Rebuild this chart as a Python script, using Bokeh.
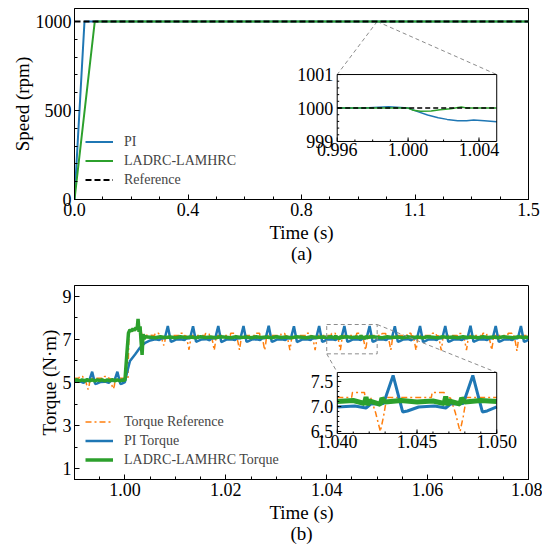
import numpy as np
from bokeh.plotting import figure
from bokeh.models import Range1d, FixedTicker, PrintfTickFormatter
from bokeh.layouts import column
from bokeh.core.properties import value
from bokeh.embed import file_html
from bokeh.resources import INLINE

FONT = "Liberation Serif"
BLUE = "#1f77b4"
GREEN = "#2ca02c"
ORANGE = "#ff7f0e"
GRAY = "#8c8c8c"

# ---------------- (a) speed data ----------------
SPEED_PI_T = [0.0, 0.033, 0.5, 0.996, 0.9975, 0.9989, 1.0, 1.0005, 1.0011, 1.0017,
              1.0022, 1.0028, 1.0033, 1.0037, 1.0043, 1.005, 1.06, 1.5]
SPEED_PI = [0, 1000, 1000, 1000, 1000, 1000.04, 1000, 999.9, 999.79, 999.71,
            999.66, 999.62, 999.62, 999.64, 999.62, 999.59, 1000, 1000]
SPEED_LAD_T = [0.0, 0.067, 0.5, 0.996, 1.0, 1.0003, 1.0007, 1.0013, 1.0018, 1.0024,
               1.003, 1.0033, 1.005, 1.5]
SPEED_LAD = [0, 1000, 1000, 1000, 1000, 999.93, 999.9, 999.91, 999.95, 999.98,
             1000.03, 1000, 1000, 1000]
SPEED_REF_T = [0.0, 0.996, 1.005, 1.5]
SPEED_REF = [1000, 1000, 1000, 1000]

SPEED_XTICKS = [0.0, 0.375, 0.75, 1.125, 1.5]
SPEED_YTICKS = [0, 500, 1000]
INSET_A_XTICKS = [0.996, 1.000, 1.004]
INSET_A_XLABELS = ["0.996", "1.000", "1.004"]
INSET_A_YTICKS = [999, 1000, 1001]
INSET_A_YLABELS = ["999", "1000", "1001"]

# ---------------- (b) torque data ----------------
TQ_PI_T = [
    0.9900, 0.9911, 0.9918, 0.9921, 0.9929, 0.9935, 0.9941, 0.9944, 0.9951, 0.9961,
    0.9968, 0.9971, 0.9979, 0.9985, 0.9991, 0.9994, 1.0000, 1.0004, 1.0010, 1.0020,
    1.0030, 1.0040, 1.0050, 1.0060,
    1.0068, 1.0071, 1.0079, 1.0085, 1.0091, 1.0094, 1.0101, 1.0111,
    1.0118, 1.0121, 1.0129, 1.0135, 1.0141, 1.0144, 1.0151, 1.0161,
    1.0168, 1.0171, 1.0179, 1.0185, 1.0191, 1.0194, 1.0201, 1.0211,
    1.0218, 1.0221, 1.0229, 1.0235, 1.0241, 1.0244, 1.0251, 1.0261,
    1.0268, 1.0271, 1.0279, 1.0285, 1.0291, 1.0294, 1.0301, 1.0311,
    1.0318, 1.0321, 1.0329, 1.0335, 1.0341, 1.0344, 1.0351, 1.0361,
    1.0368, 1.0371, 1.0379, 1.0385, 1.0391, 1.0394, 1.0400, 1.0411,
    1.0418, 1.0421, 1.0429, 1.0435, 1.0441, 1.0444, 1.0451, 1.0461,
    1.0468, 1.0471, 1.0479, 1.0485, 1.0491, 1.0494, 1.0500, 1.0511,
    1.0518, 1.0521, 1.0529, 1.0535, 1.0541, 1.0544, 1.0551, 1.0561,
    1.0568, 1.0571, 1.0579, 1.0585, 1.0591, 1.0594, 1.0601, 1.0611,
    1.0618, 1.0621, 1.0629, 1.0635, 1.0641, 1.0644, 1.0651, 1.0661,
    1.0668, 1.0671, 1.0679, 1.0685, 1.0691, 1.0694, 1.0701, 1.0711,
    1.0718, 1.0721, 1.0729, 1.0735, 1.0741, 1.0744, 1.0751, 1.0761,
    1.0768, 1.0771, 1.0779, 1.0785, 1.0791, 1.0794, 1.0800,
]
TQ_PI = [
    5.03, 5.05, 4.98, 5.07, 5.08, 5.50, 4.93, 4.95, 5.02, 5.04,
    4.98, 5.07, 5.08, 5.50, 4.93, 4.95, 5.02, 5.45, 6.00, 6.30,
    6.62, 6.84, 6.95, 7.00,
    6.97, 7.04, 7.05, 7.62, 6.89, 6.91, 6.99, 7.01,
    6.97, 7.04, 7.05, 7.61, 6.89, 6.92, 6.99, 7.01,
    6.96, 7.04, 7.05, 7.62, 6.88, 6.91, 6.99, 7.01,
    6.97, 7.04, 7.05, 7.62, 6.89, 6.91, 6.99, 7.01,
    6.97, 7.04, 7.06, 7.63, 6.89, 6.91, 6.99, 7.01,
    6.97, 7.04, 7.05, 7.61, 6.88, 6.91, 6.99, 7.01,
    6.97, 7.04, 7.05, 7.62, 6.89, 6.91, 6.99, 7.01,
    6.97, 7.05, 7.06, 7.62, 6.89, 6.91, 6.99, 7.01,
    6.97, 7.05, 7.06, 7.62, 6.89, 6.91, 6.99, 7.01,
    6.97, 7.04, 7.05, 7.61, 6.89, 6.91, 6.99, 7.01,
    6.96, 7.04, 7.05, 7.62, 6.88, 6.91, 6.99, 7.01,
    6.97, 7.04, 7.05, 7.62, 6.89, 6.91, 6.99, 7.01,
    6.97, 7.04, 7.05, 7.63, 6.89, 6.92, 6.99, 7.01,
    6.97, 7.04, 7.05, 7.62, 6.89, 6.91, 6.99, 7.01,
    6.97, 7.04, 7.05, 7.62, 6.89, 6.91, 6.99,
]

TQ_REF_T = [
    0.9900, 0.9909, 0.99095, 0.9916, 0.9918, 0.9921, 0.9923, 0.9925, 0.9927, 0.9929, 0.9931,
    0.9959, 0.99595, 0.9966, 0.9968, 0.9971, 0.9973, 0.9975, 0.9977, 0.9979, 0.9981,
    1.0006, 1.0008, 1.0012, 1.0016, 1.0020, 1.0024, 1.0028, 1.0031, 1.0034,
    1.0059, 1.00595, 1.0067, 1.00675, 1.0071, 1.0074, 1.0077, 1.0079, 1.0081,
    1.0109, 1.01095, 1.0117, 1.01175, 1.0121, 1.0124, 1.0127, 1.0129, 1.0131,
    1.0159, 1.01595, 1.0167, 1.01675, 1.0171, 1.0174, 1.0177, 1.0179, 1.0181,
    1.0209, 1.02095, 1.0217, 1.02175, 1.0221, 1.0224, 1.0227, 1.0229, 1.0231,
    1.0259, 1.02595, 1.0267, 1.02675, 1.0271, 1.0274, 1.0277, 1.0279, 1.0281,
    1.0309, 1.03095, 1.0317, 1.03175, 1.0321, 1.0324, 1.0327, 1.0329, 1.0331,
    1.0359, 1.03595, 1.0367, 1.03675, 1.0371, 1.0374, 1.0377, 1.0379, 1.0381, 1.0400,
    1.0409, 1.04095, 1.0417, 1.04175, 1.0421, 1.0424, 1.0427, 1.0429, 1.0431,
    1.0459, 1.04595, 1.0467, 1.04675, 1.0471, 1.0474, 1.0477, 1.0479, 1.0481, 1.0500,
    1.0509, 1.05095, 1.0517, 1.05175, 1.0521, 1.0524, 1.0527, 1.0529, 1.0531,
    1.0559, 1.05595, 1.0567, 1.05675, 1.0571, 1.0574, 1.0577, 1.0579, 1.0581,
    1.0609, 1.06095, 1.0617, 1.06175, 1.0621, 1.0624, 1.0627, 1.0629, 1.0631,
    1.0659, 1.06595, 1.0667, 1.06675, 1.0671, 1.0674, 1.0677, 1.0679, 1.0681,
    1.0709, 1.07095, 1.0717, 1.07175, 1.0721, 1.0724, 1.0727, 1.0729, 1.0731,
    1.0759, 1.07595, 1.0767, 1.07675, 1.0771, 1.0774, 1.0777, 1.0779, 1.0781, 1.0800,
]
TQ_REF = [
    5.20, 5.20, 5.28, 5.28, 5.20, 5.18, 5.00, 4.80, 4.68, 4.85, 5.20,
    5.20, 5.28, 5.28, 5.20, 5.18, 5.00, 4.80, 4.70, 4.85, 5.20,
    5.20, 7.35, 7.45, 7.40, 7.50, 7.45, 7.50, 7.45, 7.20,
    7.18, 7.28, 7.28, 7.18, 7.17, 6.95, 6.72, 6.90, 7.18,
    7.18, 7.28, 7.28, 7.18, 7.17, 6.88, 6.52, 6.80, 7.18,
    7.18, 7.27, 7.27, 7.18, 7.17, 6.88, 6.50, 6.80, 7.18,
    7.18, 7.28, 7.28, 7.18, 7.17, 6.88, 6.51, 6.80, 7.18,
    7.18, 7.28, 7.28, 7.18, 7.17, 6.88, 6.50, 6.80, 7.18,
    7.18, 7.27, 7.27, 7.18, 7.17, 6.88, 6.50, 6.80, 7.18,
    7.18, 7.28, 7.28, 7.18, 7.17, 6.88, 6.50, 6.80, 7.18, 7.18,
    7.18, 7.28, 7.28, 7.18, 7.17, 6.88, 6.50, 6.80, 7.18,
    7.18, 7.28, 7.28, 7.18, 7.17, 6.88, 6.50, 6.80, 7.18, 7.18,
    7.18, 7.27, 7.27, 7.18, 7.17, 6.88, 6.51, 6.80, 7.18,
    7.18, 7.28, 7.28, 7.18, 7.17, 6.88, 6.50, 6.80, 7.18,
    7.18, 7.28, 7.28, 7.18, 7.17, 6.88, 6.49, 6.80, 7.18,
    7.18, 7.27, 7.27, 7.18, 7.17, 6.88, 6.50, 6.80, 7.18,
    7.18, 7.28, 7.28, 7.18, 7.17, 6.88, 6.51, 6.80, 7.18,
    7.18, 7.28, 7.28, 7.18, 7.17, 6.88, 6.47, 6.80, 7.18, 7.18,
]

TQ_LAD_T = [
    0.9900, 0.9905, 0.9910, 0.9915, 0.9920, 0.9925, 0.9930, 0.9935, 0.9940, 0.9945,
    0.9950, 0.9955, 0.9960, 0.9965, 0.9970, 0.9975, 0.9980, 0.9985, 0.9990, 0.9995,
    1.0000, 1.0004, 1.0007, 1.0010, 1.0013, 1.0016, 1.0019, 1.0022, 1.0024, 1.0026,
    1.0028, 1.0030, 1.0032, 1.0034, 1.0036, 1.0038, 1.0040,
    1.005, 1.006, 1.007, 1.008, 1.009, 1.010, 1.011, 1.012, 1.013, 1.014,
    1.015, 1.016, 1.017, 1.018, 1.019, 1.020, 1.021, 1.022, 1.023, 1.024,
    1.025, 1.026, 1.027, 1.028, 1.029, 1.030, 1.031, 1.032, 1.033, 1.034,
    1.035, 1.036, 1.037, 1.038, 1.039, 1.040, 1.041, 1.0417, 1.0418, 1.0419,
    1.042, 1.0427, 1.0428, 1.043, 1.044, 1.045, 1.046, 1.0467, 1.0468, 1.0469,
    1.047, 1.0477, 1.0478, 1.048, 1.049, 1.050, 1.051, 1.052, 1.053, 1.054,
    1.055, 1.056, 1.057, 1.058, 1.059, 1.060, 1.061, 1.062, 1.063, 1.064,
    1.065, 1.066, 1.067, 1.068, 1.069, 1.070, 1.071, 1.072, 1.073, 1.074,
    1.075, 1.076, 1.077, 1.078, 1.079, 1.080,
]
TQ_LAD = [
    5.10, 5.13, 5.07, 5.12, 5.08, 5.13, 5.08, 5.12, 5.07, 5.12,
    5.09, 5.13, 5.07, 5.12, 5.08, 5.13, 5.08, 5.12, 5.07, 5.12,
    5.10, 6.40, 7.30, 7.45, 7.38, 7.50, 7.42, 7.55, 7.45, 7.95,
    7.35, 7.60, 6.90, 6.28, 7.25, 7.02, 7.12,
    7.10, 7.08, 7.12, 7.09, 7.11, 7.08, 7.12, 7.09, 7.11, 7.08,
    7.12, 7.09, 7.11, 7.08, 7.12, 7.10, 7.08, 7.12, 7.09, 7.11,
    7.08, 7.12, 7.09, 7.11, 7.08, 7.12, 7.09, 7.11, 7.08, 7.12,
    7.10, 7.08, 7.12, 7.09, 7.11, 7.10, 7.12, 7.06, 7.19, 7.03,
    7.11, 7.04, 7.17, 7.09, 7.12, 7.09, 7.11, 7.06, 7.20, 7.03,
    7.11, 7.05, 7.17, 7.09, 7.12, 7.10, 7.08, 7.12, 7.09, 7.11,
    7.08, 7.12, 7.09, 7.11, 7.08, 7.12, 7.10, 7.08, 7.12, 7.09,
    7.11, 7.08, 7.12, 7.09, 7.11, 7.08, 7.12, 7.09, 7.11, 7.08,
    7.12, 7.10, 7.08, 7.12, 7.09, 7.10,
]

TORQUE_XTICKS = [1.00, 1.02, 1.04, 1.06, 1.08]
TORQUE_YTICKS = [1, 3, 5, 7, 9]
INSET_B_XTICKS = [1.040, 1.045, 1.050]
INSET_B_XLABELS = ["1.040", "1.045", "1.050"]
INSET_B_YTICKS = [6.5, 7.0, 7.5]
INSET_B_YLABELS = ["6.5", "7.0", "7.5"]

assert len(TQ_PI_T) == len(TQ_PI)
assert len(TQ_REF_T) == len(TQ_REF)
assert len(TQ_LAD_T) == len(TQ_LAD)

# ---------------- layout constants ----------------
W = 534
LEFT = 64
FRAME_W = 456
A_H, A_TOP, A_BOT = 261, 0, 70
B_H, B_TOP, B_BOT = 277, 16, 67
A_FRAME_H = A_H - A_TOP - A_BOT
B_FRAME_H = B_H - B_TOP - B_BOT

A_XR, A_YR = (0.0, 1.5), (0.0, 1073.0)
B_XR, B_YR = (0.99, 1.08), (0.5, 9.5)

A_IN_XS, A_IN_YS = (0.996, 1.005), (999.0, 1001.0)
A_IN_XT, A_IN_YT = (0.868, 1.395), (326.0, 702.0)
B_IN_XS, B_IN_YS = (1.040, 1.050), (6.46, 7.68)
B_IN_XT, B_IN_YT = (1.0421, 1.0737), (2.635, 5.465)
B_BOX = (1.040, 1.050, 6.33, 7.69)


def make_fig(xr, yr, height, mbt, mbb):
    p = figure(width=W, height=height, x_range=Range1d(*xr), y_range=Range1d(*yr),
               output_backend="svg", toolbar_location=None,
               min_border_left=LEFT, min_border_right=W - LEFT - FRAME_W,
               min_border_top=mbt, min_border_bottom=mbb)
    p.xgrid.visible = False
    p.ygrid.visible = False
    p.outline_line_color = "black"
    p.outline_line_width = 1
    p.outline_line_alpha = 1
    p.background_fill_color = "white"
    p.border_fill_color = "white"
    return p


def style_axes(p, xticks, xminor, yticks, yminor, xfmt, xlabel, ylabel):
    p.xaxis.ticker = FixedTicker(ticks=list(xticks), minor_ticks=list(xminor))
    p.yaxis.ticker = FixedTicker(ticks=list(yticks), minor_ticks=list(yminor))
    if xfmt:
        p.xaxis.formatter = PrintfTickFormatter(format=xfmt)
    p.xaxis.axis_label = xlabel
    p.yaxis.axis_label = ylabel
    for ax in (p.xaxis[0], p.yaxis[0]):
        ax.major_tick_in = 5
        ax.major_tick_out = 0
        ax.minor_tick_in = 3
        ax.minor_tick_out = 0
        ax.major_tick_line_color = "black"
        ax.minor_tick_line_color = "black"
        ax.axis_line_color = "black"
        ax.major_label_text_font = FONT
        ax.major_label_text_font_size = "18px"
        ax.major_label_text_color = "black"
        ax.major_label_standoff = 3
        ax.axis_label_text_font = FONT
        ax.axis_label_text_font_size = "19px"
        ax.axis_label_text_font_style = "normal"
        ax.axis_label_text_color = "black"
        ax.axis_label_text_line_height = 1.0
    p.xaxis[0].axis_label_standoff = 3
    p.yaxis[0].axis_label_standoff = 0


def style_legend(p):
    lg = p.legend[0]
    lg.location = (11, 11)
    lg.border_line_color = None
    lg.background_fill_alpha = 0
    lg.label_text_font = FONT
    lg.label_text_font_size = "14px"
    lg.glyph_width = 28
    lg.glyph_height = 17
    lg.label_height = 17
    lg.spacing = 2
    lg.label_standoff = 11
    lg.padding = 2
    lg.margin = 0


def add_inset(p, pxr, pyr, pfh, xs, ys, xt, yt, xticks, xlabels, xminor,
              yticks, ylabels, yminor, series):
    sub = p.subplot(x_source=Range1d(*xs), y_source=Range1d(*ys),
                    x_target=Range1d(*xt), y_target=Range1d(*yt))
    wpx = (xt[1] - xt[0]) / (pxr[1] - pxr[0]) * FRAME_W
    hpx = (yt[1] - yt[0]) / (pyr[1] - pyr[0]) * pfh
    ux = (xs[1] - xs[0]) / wpx
    uy = (ys[1] - ys[0]) / hpx
    sub.quad(left=[xs[0]], right=[xs[1]], bottom=[ys[0]], top=[ys[1]],
             fill_color="white", line_color=None)
    for t, v, kw in series:
        t = np.asarray(t, dtype=float)
        v = np.asarray(v, dtype=float)
        m = (t >= xs[0] - 1e-9) & (t <= xs[1] + 1e-9)
        sub.line(t[m], v[m], **kw)
    sub.quad(left=[xs[0]], right=[xs[1]], bottom=[ys[0]], top=[ys[1]],
             fill_color=None, line_color="black", line_width=1)
    xmn = [x for x in xminor if xs[0] < x < xs[1]]
    ymn = [y for y in yminor if ys[0] < y < ys[1]]
    sub.segment(x0=list(xticks), y0=[ys[0]] * len(xticks), x1=list(xticks),
                y1=[ys[0] + 4 * uy] * len(xticks), line_color="black", line_width=1)
    sub.segment(x0=xmn, y0=[ys[0]] * len(xmn), x1=xmn,
                y1=[ys[0] + 2 * uy] * len(xmn), line_color="black", line_width=1)
    sub.segment(x0=[xs[0]] * len(yticks), y0=list(yticks), x1=[xs[0] + 4 * ux] * len(yticks),
                y1=list(yticks), line_color="black", line_width=1)
    sub.segment(x0=[xs[0]] * len(ymn), y0=ymn, x1=[xs[0] + 2 * ux] * len(ymn),
                y1=ymn, line_color="black", line_width=1)
    sub.text(x=list(xticks), y=[ys[0]] * len(xticks), text=list(xlabels),
             text_align="center", text_baseline="top", y_offset=2,
             text_font=value(FONT), text_font_size="18px", text_color="black")
    sub.text(x=[xs[0]] * len(yticks), y=list(yticks), text=list(ylabels),
             text_align="right", text_baseline="middle", x_offset=-4,
             text_font=value(FONT), text_font_size="18px", text_color="black")
    return sub


# ================= panel (a) =================
pa = make_fig(A_XR, A_YR, A_H, A_TOP, A_BOT)
pa.segment(x0=[1.0, 1.0], y0=[1000, 1000], x1=[A_IN_XT[0], A_IN_XT[1]],
           y1=[A_IN_YT[1], A_IN_YT[1]], line_color=GRAY, line_dash="4 3", line_width=1)
pa.line(SPEED_PI_T, SPEED_PI, line_color=BLUE, line_width=2, legend_label="PI")
pa.line(SPEED_LAD_T, SPEED_LAD, line_color=GREEN, line_width=2, legend_label="LADRC-LAMHRC")
pa.line(SPEED_REF_T, SPEED_REF, line_color="black", line_width=2, line_dash="6 3",
        legend_label="Reference")
style_axes(pa, SPEED_XTICKS, np.arange(0, 1.5001, 0.09375), SPEED_YTICKS,
           np.arange(0, 1073, 100), "%.1f", "Time (s)\n(a)", "Speed (rpm)")
style_legend(pa)
add_inset(pa, A_XR, A_YR, A_FRAME_H, A_IN_XS, A_IN_YS, A_IN_XT, A_IN_YT,
          INSET_A_XTICKS, INSET_A_XLABELS, np.arange(0.996, 1.0051, 0.001),
          INSET_A_YTICKS, INSET_A_YLABELS, np.arange(999, 1001.01, 0.2),
          [(SPEED_PI_T, SPEED_PI, dict(line_color=BLUE, line_width=1.5)),
           (SPEED_LAD_T, SPEED_LAD, dict(line_color=GREEN, line_width=1.5)),
           (SPEED_REF_T, SPEED_REF, dict(line_color="black", line_width=1.5, line_dash="5 3"))])

# ================= panel (b) =================
pb = make_fig(B_XR, B_YR, B_H, B_TOP, B_BOT)
pb.line(TQ_REF_T, TQ_REF, line_color=ORANGE, line_width=1.5, line_dash="6 3 2 3",
        legend_label="Torque Reference")
pb.line(TQ_PI_T, TQ_PI, line_color=BLUE, line_width=2.5, legend_label="PI Torque")
pb.line(TQ_LAD_T, TQ_LAD, line_color=GREEN, line_width=3.5, legend_label="LADRC-LAMHRC Torque")
pb.quad(left=[B_BOX[0]], right=[B_BOX[1]], bottom=[B_BOX[2]], top=[B_BOX[3]],
        fill_color=None, line_color=GRAY, line_dash="4 3", line_width=1)
pb.segment(x0=[B_BOX[0], B_BOX[1]], y0=[B_BOX[2], B_BOX[3]],
           x1=[B_IN_XT[0], B_IN_XT[1]], y1=[B_IN_YT[1], B_IN_YT[1]],
           line_color=GRAY, line_dash="4 3", line_width=1)
style_axes(pb, TORQUE_XTICKS, np.arange(0.99, 1.0801, 0.005), TORQUE_YTICKS,
           np.arange(1, 10, 1), "%.2f", "Time (s)\n(b)", "Torque (N\u00b7m)")
style_legend(pb)
add_inset(pb, B_XR, B_YR, B_FRAME_H, B_IN_XS, B_IN_YS, B_IN_XT, B_IN_YT,
          INSET_B_XTICKS, INSET_B_XLABELS, np.arange(1.040, 1.0501, 0.001),
          INSET_B_YTICKS, INSET_B_YLABELS, np.arange(6.5, 7.65, 0.1),
          [(TQ_REF_T, TQ_REF, dict(line_color=ORANGE, line_width=1.5, line_dash="6 3 2 3")),
           (TQ_PI_T, TQ_PI, dict(line_color=BLUE, line_width=3)),
           (TQ_LAD_T, TQ_LAD, dict(line_color=GREEN, line_width=5))])

layout = column(pa, pb, spacing=0,
                styles={"position": "absolute", "left": "8px", "top": "8px"})
open("out.html", "w").write(file_html(layout, INLINE))
